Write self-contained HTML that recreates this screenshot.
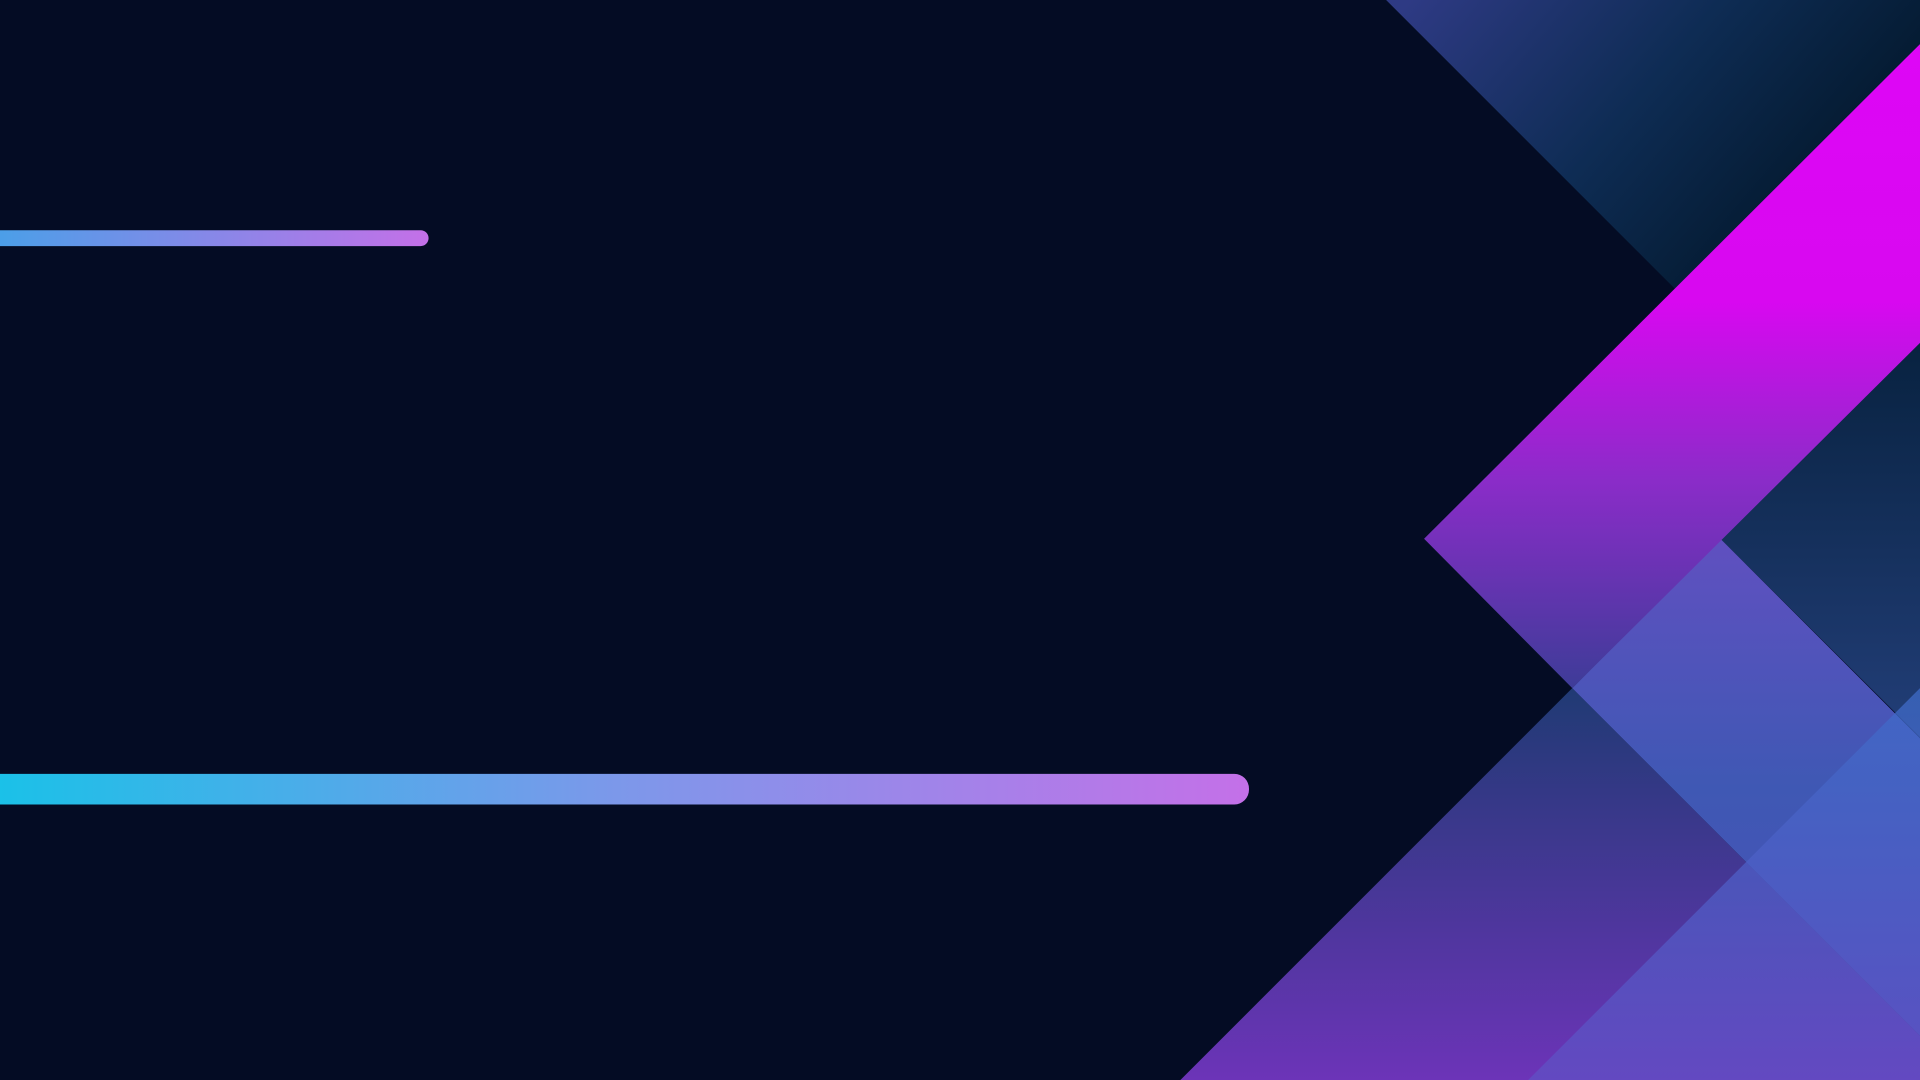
<!DOCTYPE html>
<html><head><meta charset="utf-8"><style>
html,body{margin:0;padding:0;background:#040c24;overflow:hidden}
svg{display:block}
</style></head><body>
<svg width="1920" height="1080" viewBox="0 0 1568 882" preserveAspectRatio="none" xmlns="http://www.w3.org/2000/svg">
<defs>
<linearGradient id="gTop" gradientUnits="userSpaceOnUse" x1="1150" y1="0" x2="1420" y2="230"><stop offset="0" stop-color="#2e3a84"/><stop offset="0.55" stop-color="#0e2c54"/><stop offset="1" stop-color="#041a30"/></linearGradient>
<linearGradient id="gRight" gradientUnits="userSpaceOnUse" x1="0" y1="280" x2="0" y2="602"><stop offset="0" stop-color="#082240"/><stop offset="1" stop-color="#223e78"/></linearGradient>
<linearGradient id="gLow" gradientUnits="userSpaceOnUse" x1="0" y1="562" x2="0" y2="882"><stop offset="0" stop-color="#203a74"/><stop offset="1" stop-color="#6c34b8"/></linearGradient>
<linearGradient id="gDia" gradientUnits="userSpaceOnUse" x1="0" y1="440" x2="0" y2="846"><stop offset="0" stop-color="#6050c0"/><stop offset="0.5" stop-color="#3f58b4"/><stop offset="1" stop-color="#4a50b8"/></linearGradient>
<linearGradient id="gC" gradientUnits="userSpaceOnUse" x1="0" y1="562" x2="0" y2="882"><stop offset="0" stop-color="#3e6cc8"/><stop offset="1" stop-color="#6050c4"/></linearGradient>
<linearGradient id="gMag" gradientUnits="userSpaceOnUse" x1="0" y1="36" x2="0" y2="562"><stop offset="0" stop-color="#de06f6"/><stop offset="0.4" stop-color="#d808f0"/><stop offset="0.68" stop-color="#8a2cc8"/><stop offset="1" stop-color="#3e3c98"/></linearGradient>
<linearGradient id="gBar1" x1="0" y1="0" x2="1" y2="0"><stop offset="0" stop-color="#48a0e8"/><stop offset="1" stop-color="#c470e8"/></linearGradient>
<linearGradient id="gBar2" x1="0" y1="0" x2="1" y2="0"><stop offset="0" stop-color="#18c2e8"/><stop offset="0.5" stop-color="#7c98ea"/><stop offset="1" stop-color="#c470e8"/></linearGradient>
</defs>
<rect x="0" y="0" width="1568" height="882" fill="#040c24"/>
<polygon points="1132,0 1568,0 1568,436" fill="url(#gTop)"/>
<polygon points="1568,280 1405,440 1568,602" fill="url(#gRight)"/>
<polygon points="964,882 1284,562 1604,882" fill="url(#gLow)"/>
<polygon points="1284,562 1405,440 1568,603 1568,846" fill="url(#gDia)"/>
<polygon points="1568,562 1568,882 1248,882" fill="url(#gC)" opacity="0.75"/>
<polygon points="1568,36 1568,280 1284,562 1163,440" fill="url(#gMag)"/>
<rect x="-10" y="188" width="360" height="13" rx="6.5" fill="url(#gBar1)"/>
<rect x="-14" y="632" width="1034" height="25" rx="12" fill="url(#gBar2)"/>
</svg>
</body></html>
